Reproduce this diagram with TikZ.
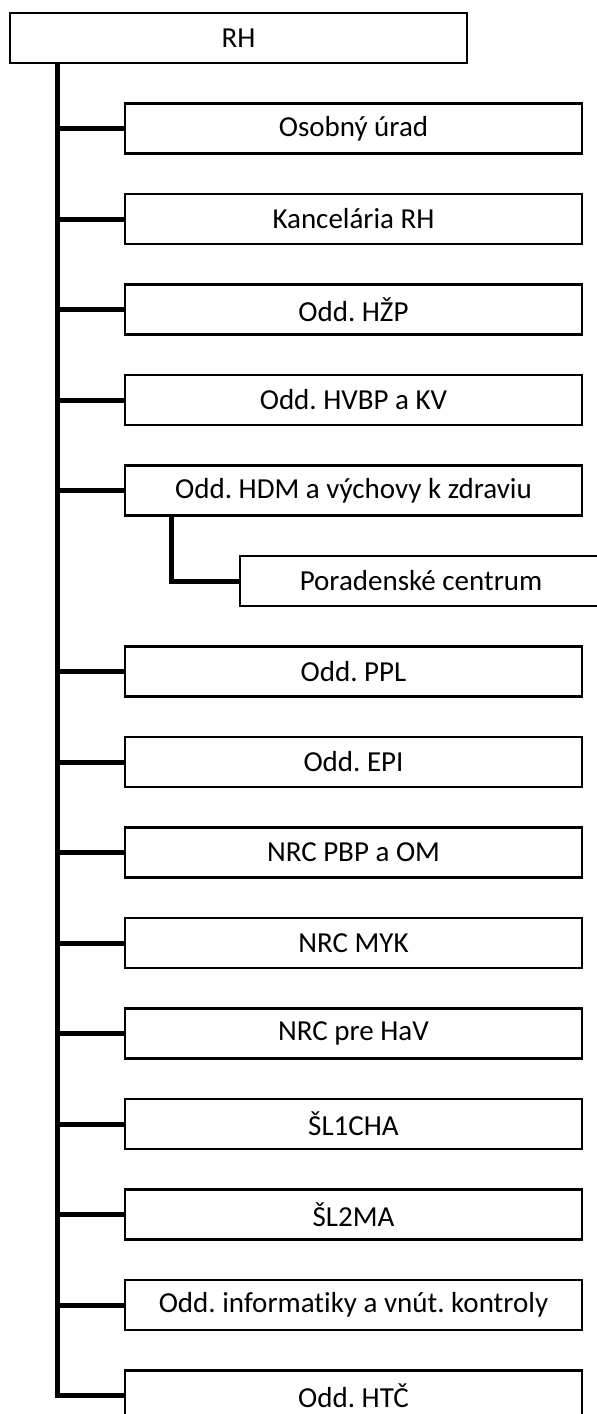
\documentclass[tikz,border=0pt]{standalone}
\usepackage{fontspec}
\setmainfont{Carlito}[Ligatures=NoCommon]
\frenchspacing
\begin{document}
\begin{tikzpicture}[x=1pt, y=-1pt,
  unit/.style={draw, line width=2.5pt, minimum width=457pt, minimum height=50pt,
               inner sep=0pt, font=\fontsize{29}{34}\selectfont},
  link/.style={line width=5pt}]
  \useasboundingbox (0,0) rectangle (597,1414);

  % head
  \node[unit] (rh) at (238.5, 38) {RH};

  % departments
  \node[unit] (osob) at (353.5, 128.5) {Osobný úrad};
  \node[unit] (kanc) at (353.5, 219)   {Kancelária RH};
  \node[unit] (hzp)  at (353.5, 309.5) {Odd. HŽP};
  \node[unit] (hvbp) at (353.5, 400)   {Odd. HVBP a KV};
  \node[unit] (hdm)  at (353.5, 490.5) {Odd. HDM a výchovy k zdraviu};
  \node[unit, minimum width=362pt] (por) at (421, 581) {Poradenské centrum};
  \node[unit] (ppl)  at (353.5, 671.5) {Odd. PPL};
  \node[unit] (epi)  at (353.5, 762)   {Odd. EPI};
  \node[unit] (pbp)  at (353.5, 852.5) {NRC PBP a OM};
  \node[unit] (myk)  at (353.5, 943)   {NRC MYK};
  \node[unit] (hav)  at (353.5, 1033.5) {NRC pre HaV};
  \node[unit] (sla)  at (353.5, 1124)  {ŠL1CHA};
  \node[unit] (slb)  at (353.5, 1214.5) {ŠL2MA};
  \node[unit] (inf)  at (353.5, 1305)  {Odd. informatiky a vnút. kontroly};
  \node[unit] (htc)  at (353.5, 1395.5) {Odd. HTČ};

  % trunk
  \coordinate (top) at (57, 63);
  \draw[link] (top) |- (htc.west);
  \foreach \d in {osob, kanc, hzp, hvbp, hdm, ppl, epi, pbp, myk, hav, sla, slb, inf}
    \draw[link] (\d.west) -- (\d.west -| top);

  % sub-unit
  \coordinate (sub) at (171, 515.5);
  \draw[link] (sub) |- (por.west);
\end{tikzpicture}
\end{document}
